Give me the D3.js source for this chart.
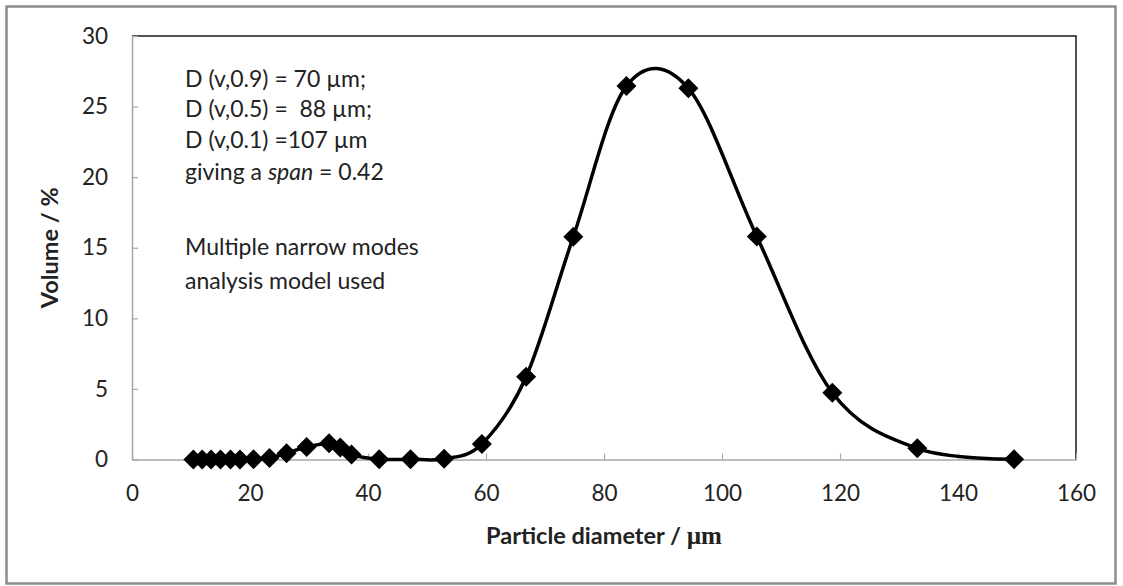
<!DOCTYPE html>
<html>
<head>
<meta charset="utf-8">
<script src="https://cdn.jsdelivr.net/npm/d3@7"></script>
<style>
  body { margin: 0; background: #fff; }
  svg text { font-family: Lato, "Open Sans", sans-serif; fill: #222; }
  .tick text { font-size: 22.5px; }
</style>
</head>
<body>
<svg id="chart" width="1123" height="586"></svg>
<script>
// particle size distribution
var diameter = [10.4, 11.9, 13.4, 15.0, 16.7, 18.3, 20.6, 23.3, 26.2, 29.6, 33.4, 35.3, 37.2,
                41.9, 47.2, 52.9, 59.3, 66.8, 74.8, 83.8, 94.3, 105.9, 118.7, 133.1, 149.5];
var volume   = [0.0, 0.0, 0.0, 0.0, 0.0, 0.0, 0.02, 0.1, 0.45, 0.88, 1.15, 0.85, 0.35,
                0.02, 0.02, 0.05, 1.1, 5.86, 15.78, 26.45, 26.29, 15.8, 4.73, 0.79, 0.02];
var xTicks = [0, 20, 40, 60, 80, 100, 120, 140, 160];
var yTicks = [0, 5, 10, 15, 20, 25, 30];
var notes = [
  ["D (v,0.9) = 70 µm;"],
  ["D (v,0.5) =  88 µm;"],
  ["D (v,0.1) =107 µm"],
  ["giving a ", "span", " = 0.42"],
  ["Multiple narrow modes"],
  ["analysis model used"]
];
var noteY = [87, 117, 148, 180, 255, 289];

function draw_chart() {
   var data = diameter.map(function(d, i) { return {x: d, y: volume[i]}; });

   var svg_canvas = d3.select("#chart");
   var pLeft = 132, pRight = 1076, pTop = 36, pBottom = 459.5;

   // outer frame
   svg_canvas.append("rect")
      .attr("x", 6.5).attr("y", 6.5).attr("width", 1109).attr("height", 577)
      .attr("fill", "none").attr("stroke", "#8c8c8c").attr("stroke-width", 2.5);

   var x = d3.scaleLinear().domain([0, 160]).range([pLeft, pRight]);
   var y = d3.scaleLinear().domain([0, 30]).range([pBottom, pTop]);

   // plot area top/right border
   svg_canvas.append("path")
      .attr("d", "M" + pLeft + "," + pTop + "H" + pRight + "V" + pBottom)
      .attr("fill", "none").attr("stroke", "#1a1a1a").attr("stroke-width", 1.5);

   var xAxis = svg_canvas.append("g")
      .attr("transform", "translate(0," + pBottom + ")")
      .call(d3.axisBottom(x).tickValues(xTicks).tickSizeInner(-6).tickSizeOuter(0).tickPadding(26));
   var yAxis = svg_canvas.append("g")
      .attr("transform", "translate(" + pLeft + ",0)")
      .call(d3.axisLeft(y).tickValues(yTicks).tickSizeInner(-6).tickSizeOuter(0).tickPadding(24));
   [xAxis, yAxis].forEach(function(a) {
      a.select(".domain").attr("stroke", "#a6a6a6").attr("stroke-width", 1.5);
      a.selectAll(".tick line").attr("stroke", "#a6a6a6").attr("stroke-width", 1.2);
      a.selectAll(".tick text").attr("fill", "#222");
   });

   // smoothed line + diamond markers
   var line = d3.line()
      .x(function(d) { return x(d.x); })
      .y(function(d) { return y(d.y); })
      .curve(d3.curveCardinal.tension(0));
   svg_canvas.append("path").datum(data)
      .attr("d", line)
      .attr("fill", "none").attr("stroke", "#000").attr("stroke-width", 3.5);

   svg_canvas.append("g").selectAll("path.mark").data(data).enter()
      .append("path").attr("class", "mark")
      .attr("d", d3.symbol().type(d3.symbolSquare).size(200))
      .attr("transform", function(d) { return "translate(" + x(d.x) + "," + y(d.y) + ") rotate(45)"; })
      .attr("fill", "#000");

   // axis titles
   svg_canvas.append("text")
      .attr("transform", "translate(58," + ((pTop + pBottom) / 2) + ") rotate(-90)")
      .attr("text-anchor", "middle")
      .style("font-size", "23.5px").style("font-weight", "bold")
      .text("Volume / %");

   var xt = svg_canvas.append("text")
      .attr("x", (pLeft + pRight) / 2).attr("y", 544)
      .attr("text-anchor", "middle")
      .style("font-size", "23.5px").style("font-weight", "bold");
   xt.append("tspan").text("Particle diameter / ");
   xt.append("tspan").style("font-family", "'Liberation Serif', serif").style("font-size", "25px").text("µm");

   // annotation
   var ann = svg_canvas.append("g");
   notes.forEach(function(parts, i) {
      var t = ann.append("text").attr("x", 185).attr("y", noteY[i]).style("font-size", "23px")
         .style("white-space", "pre");
      parts.forEach(function(p) {
         var s = t.append("tspan").text(p);
         if (p === "span") s.style("font-style", "italic");
      });
   });
}
draw_chart();
</script>
</body>
</html>
